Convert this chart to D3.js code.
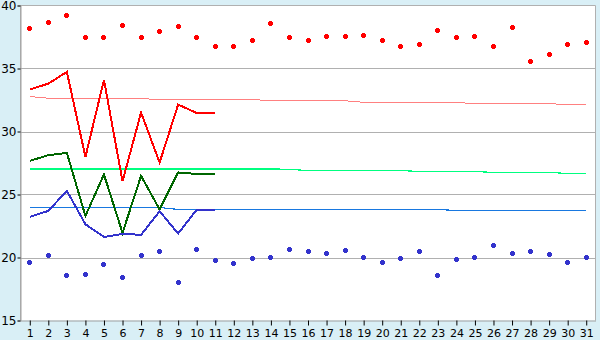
<!DOCTYPE html>
<html><head><meta charset="utf-8">
<script src="https://cdn.jsdelivr.net/npm/d3@7"></script>
<style>
html,body{margin:0;padding:0;background:#d9eff6;}
svg{display:block;font-family:"DejaVu Sans",Verdana,sans-serif;}
</style></head><body>
<svg id="c" width="600" height="340"></svg>
<script>
const days = d3.range(1, 32);
const yTicks = [15, 20, 25, 30, 35, 40];
const redPoints = [38.17,38.65,39.2,37.46,37.46,38.4,37.46,37.93,38.33,37.46,36.75,36.75,37.22,38.57,37.46,37.22,37.54,37.56,37.62,37.22,36.75,36.9,38.0,37.46,37.54,36.75,38.25,35.56,36.11,36.9,37.06];
const bluePoints = [19.6,20.16,18.57,18.65,19.44,18.41,20.16,20.48,18.02,20.63,19.76,19.52,19.92,20.0,20.63,20.48,20.32,20.56,20.0,19.6,19.92,20.48,18.57,19.84,20.0,20.95,20.32,20.48,20.24,19.6,20.0];
const redLine = [33.33,33.8,34.73,27.98,34.1,26.05,31.5,27.54,32.14,31.47,31.47];
const greenLine = [27.67,28.12,28.3,23.3,26.59,21.95,26.48,23.81,26.75,26.63,26.63];
const blueLine = [23.22,23.7,25.29,22.64,21.63,21.87,21.8,23.67,21.9,23.8,23.78];
const pinkRef = [32.78,32.64,32.62,32.62,32.61,32.6,32.6,32.55,32.54,32.54,32.53,32.52,32.52,32.47,32.46,32.46,32.45,32.44,32.32,32.31,32.3,32.3,32.3,32.29,32.23,32.22,32.22,32.21,32.2,32.15,32.14];
const mintRef = [27.03,27.03,27.03,27.03,27.03,27.03,27.03,27.03,27.03,27.03,27.03,27.03,27.03,27.03,27.0,26.9,26.9,26.9,26.9,26.9,26.9,26.83,26.83,26.83,26.83,26.75,26.75,26.75,26.75,26.67,26.67];
const blueRef = [23.97,23.97,23.97,23.97,23.97,23.97,23.97,23.97,23.81,23.81,23.81,23.81,23.81,23.81,23.81,23.81,23.81,23.81,23.81,23.81,23.81,23.81,23.81,23.73,23.73,23.73,23.73,23.73,23.73,23.73,23.73];

const svg = d3.select("#c");
const L = 20.5, R = 595.5, T = 5.5, B = 320.5;
const x = d3.scalePoint().domain(days).range([L, R]).padding(0.5);
const y = d3.scaleLinear().domain([15, 40]).range([B, T]);

svg.append("rect").attr("x", L).attr("y", T).attr("width", R - L).attr("height", B - T).attr("fill", "#fff");

// grid
svg.append("g").selectAll("line").data(yTicks.filter(v => v > 15 && v < 40)).join("line")
  .attr("x1", L).attr("x2", R).attr("y1", d => Math.round(y(d)) + 0.5).attr("y2", d => Math.round(y(d)) + 0.5)
  .attr("stroke", "#b0b0b0").attr("stroke-width", 1);

// frame
svg.append("path").attr("d", `M${L},${B}V${T}H${R}V${B}`).attr("fill", "none").attr("stroke", "#b0b0b0");

// axes
const ya = svg.append("g").attr("transform", `translate(${L},0)`)
  .call(d3.axisLeft(y).tickValues(yTicks).tickSize(3).tickPadding(1).tickFormat(d3.format("d")));
ya.select(".domain").attr("stroke", "#a0a0a0");
ya.selectAll(".tick line").attr("stroke", "#000");
ya.selectAll("text").attr("font-size", 12).attr("fill", "#000");
ya.attr("font-family", null);

const xa = svg.append("g").attr("transform", `translate(0,${B})`)
  .call(d3.axisBottom(x).tickSize(5).tickPadding(4).tickSizeOuter(0));
xa.select(".domain").attr("stroke", "#a0a0a0");
xa.selectAll(".tick line").attr("stroke", "#000");
xa.selectAll("text").attr("font-size", 11).attr("fill", "#000");
xa.attr("font-family", null);

// reference lines
function drawLine(data, color, w) {
  svg.append("path").datum(data)
    .attr("fill", "none").attr("stroke", color).attr("stroke-width", w)
    .attr("shape-rendering", "crispEdges")
    .attr("d", d3.line().x((d, i) => x(days[i])).y(d => y(d)));
}
drawLine(pinkRef, "#ff8080", 1);
drawLine(mintRef, "#00ff80", 1.2);
drawLine(blueRef, "#1878e0", 1.2);
drawLine(redLine, "#ff0000", 2);
drawLine(greenLine, "#006600", 2);
drawLine(blueLine, "#3333cc", 2);

// markers
const cross = "M-2,-1H-1V-2H2V-1H3V2H2V3H-1V2H-2Z";
function drawPoints(data, color) {
  svg.append("g").selectAll("path").data(data).join("path")
    .attr("d", cross).attr("fill", color).attr("shape-rendering", "crispEdges")
    .attr("transform", (d, i) => `translate(${Math.floor(x(days[i]))},${Math.floor(y(d))})`);
}
drawPoints(redPoints, "#ff0000");
drawPoints(bluePoints, "#3333cc");
</script></body></html>
